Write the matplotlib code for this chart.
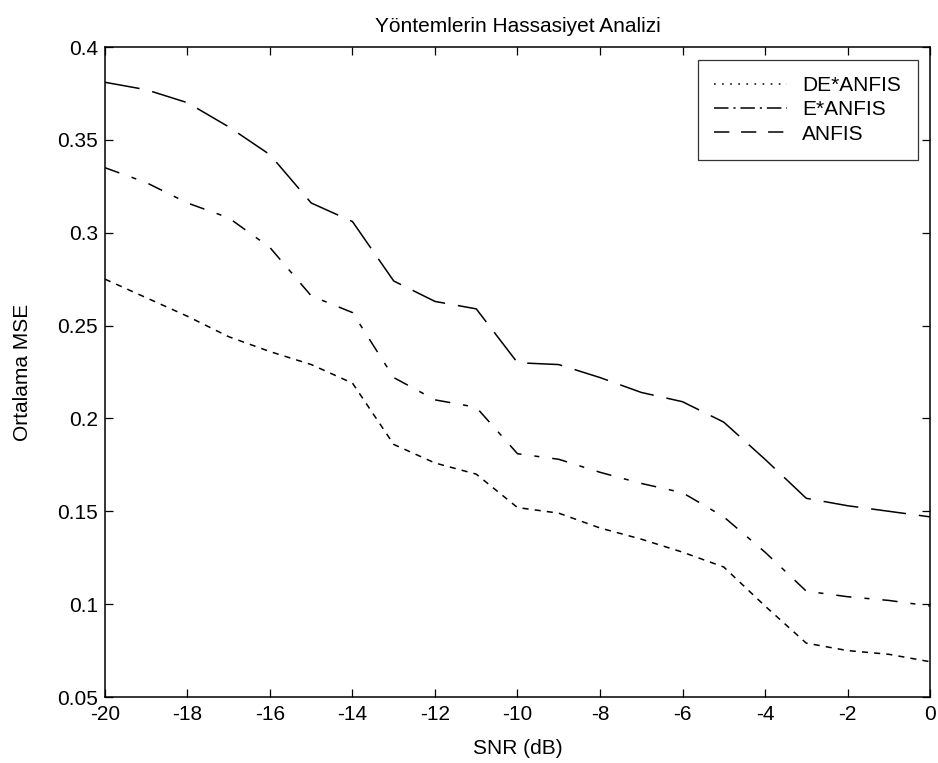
import matplotlib
matplotlib.use("Agg")
import matplotlib.pyplot as plt
from matplotlib.ticker import FixedLocator
from matplotlib.lines import Line2D

plt.rcParams['font.family'] = ['Liberation Sans', 'DejaVu Sans']

snr = list(range(-20, 1))
de_anfis = [0.275, 0.265, 0.255, 0.244, 0.236, 0.229, 0.219, 0.186, 0.176, 0.170,
            0.152, 0.149, 0.141, 0.135, 0.128, 0.120, 0.099, 0.079, 0.075, 0.073, 0.069]
e_anfis = [0.335, 0.327, 0.316, 0.308, 0.292, 0.266, 0.257, 0.222, 0.210, 0.206,
           0.181, 0.178, 0.171, 0.165, 0.160, 0.147, 0.128, 0.107, 0.104, 0.102, 0.099]
anfis = [0.381, 0.377, 0.370, 0.357, 0.342, 0.316, 0.306, 0.274, 0.263, 0.259,
         0.230, 0.229, 0.222, 0.214, 0.209, 0.198, 0.178, 0.157, 0.153, 0.150, 0.147]
labels = ['DE*ANFIS', 'E*ANFIS', 'ANFIS']
xticks = list(range(-20, 1, 2))
yticks = [0.05, 0.1, 0.15, 0.2, 0.25, 0.3, 0.35, 0.4]
ytick_labels = ['0.05', '0.1', '0.15', '0.2', '0.25', '0.3', '0.35', '0.4']

fig = plt.figure(figsize=(9.38, 7.63), dpi=100)
ax = fig.add_axes([0.1119, 0.0865, 0.8796, 0.8519])

lw = 1.1
ax.plot(snr, de_anfis, color='black', linestyle=(0, (4.0, 4.0)), linewidth=lw)
ax.plot(snr, e_anfis, color='black', linestyle=(0, (10.0, 8.5, 3.3, 8.5)), linewidth=lw)
ax.plot(snr, anfis, color='black', linestyle=(0, (23, 8.5)), linewidth=lw)

ax.set_xlim(-20, 0)
ax.set_ylim(0.05, 0.4)
ax.xaxis.set_major_locator(FixedLocator(xticks))
ax.set_xticklabels([str(t) for t in xticks])
ax.yaxis.set_major_locator(FixedLocator(yticks))
ax.set_yticklabels(ytick_labels)
ax.tick_params(direction='in', top=True, right=True, labelsize=15, length=6, width=0.9)
ax.tick_params(axis='y', pad=5)
ax.tick_params(axis='x', pad=6)
for s in ax.spines.values():
    s.set_linewidth(1.1)

ax.set_xlabel('SNR (dB)', fontsize=15)
ax.xaxis.set_label_coords(0.5, -0.064)
ax.set_ylabel('Ortalama MSE', fontsize=15)
ax.yaxis.set_label_coords(-0.089, 0.5)
ax.set_title('Yöntemlerin Hassasiyet Analizi', fontsize=15, pad=11)

handles = [
    Line2D([], [], color='black', linewidth=lw, linestyle=(0, (1.1, 4.2))),
    Line2D([], [], color='black', linewidth=lw, linestyle=(0, (9.5, 3.2, 1.4, 3.2))),
    Line2D([], [], color='black', linewidth=lw, linestyle=(0, (10, 7.7))),
]
leg = ax.legend(handles, labels, loc='upper right', fontsize=15, handlelength=3.5,
                frameon=True, fancybox=False, edgecolor='black', borderpad=0.8,
                labelspacing=0.25, handletextpad=0.7, borderaxespad=0.6)
leg.get_frame().set_linewidth(0.9)

fig.savefig('out.png', dpi=100)
